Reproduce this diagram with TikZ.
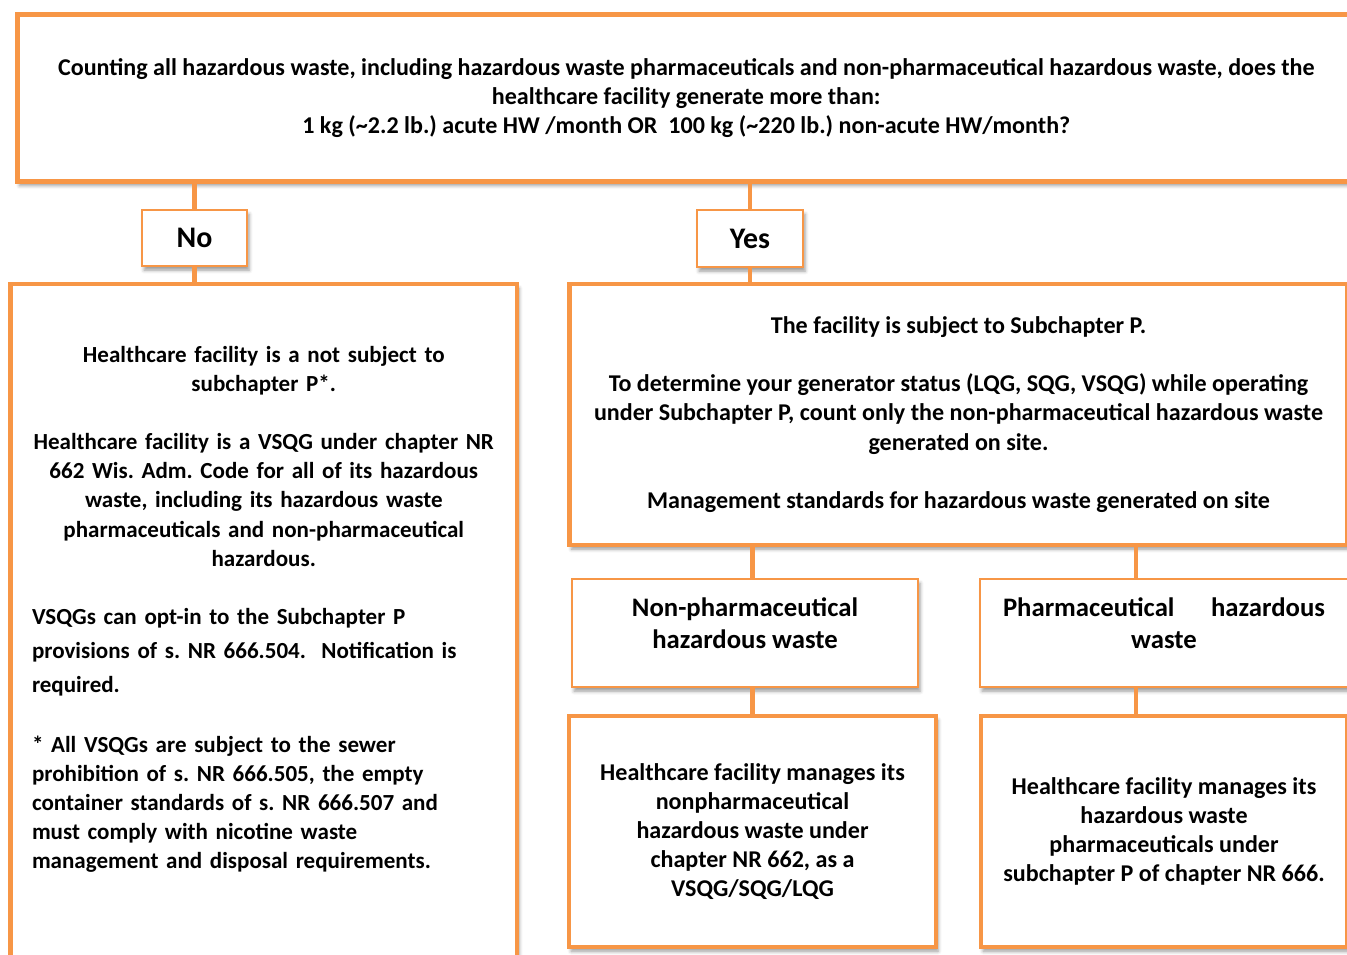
\documentclass[tikz,border=0pt]{standalone}
\usepackage{fontspec}
\setmainfont{Carlito}
\usetikzlibrary{positioning, shadows.blur}
\definecolor{Accent}{HTML}{F79646}

\begin{document}
\frenchspacing
\begin{tikzpicture}[
    box/.style={draw=Accent, line width=2.8pt, fill=white,
        blur shadow={shadow xshift=1.2pt, shadow yshift=-2.4pt, shadow blur radius=2pt}},
    tag/.style={draw=Accent, line width=0.7pt, fill=white,
        blur shadow={shadow xshift=1.2pt, shadow yshift=-2.4pt, shadow blur radius=2pt}},
    link/.style={draw=Accent, line width=2.3pt},
    every node/.style={font=\fontsize{13.7}{16.6}\selectfont\bfseries}
]
\useasboundingbox (0,0) rectangle (26.94,-19.08);
\clip (0,0) rectangle (26.94,-19.08);

% question
\node[box, minimum width=26.75cm, minimum height=3.34cm, align=center] (top) at (13.725,-1.96)
    {Counting all hazardous waste, including hazardous waste pharmaceuticals and non-pharmaceutical hazardous waste, does the\\
     healthcare facility generate more than:\\
     1 kg (\textasciitilde2.2 lb.) acute HW /month OR\ \ 100 kg (\textasciitilde220 lb.) non-acute HW/month?};

\node[tag, minimum width=2.1cm, minimum height=1.12cm, font=\fontsize{17}{20}\selectfont\bfseries] (no) at (3.89,-4.76) {No};
\node[tag, minimum width=2.12cm, minimum height=1.14cm, font=\fontsize{17}{20}\selectfont\bfseries] (yes) at (15.0,-4.77) {Yes};

% left branch
\node[box, minimum width=10.13cm, minimum height=14.32cm] (left) at (5.275,-12.84) {};
\node[text width=9.27cm, inner sep=0pt, below=1.29cm of left.north,
    font=\fontsize{13.1}{16.55}\selectfont\bfseries] (lefttxt) {%
    \setlength{\parindent}{0pt}%
    {\centering\leftskip=0pt plus 1fil minus 0.4cm\rightskip=0pt plus 1fil minus 0.4cm
     Healthcare facility is a not subject to\\ subchapter P*.\\[16.55pt]
     Healthcare facility is a VSQG under chapter NR\\ 662 Wis. Adm. Code for all of its hazardous\\
     waste, including its hazardous waste\\ pharmaceuticals and non-pharmaceutical\\ hazardous.\par}
    \vspace{14pt}
    {\raggedright\fontsize{13.1}{19.3}\selectfont VSQGs can opt-in to the Subchapter P\\
     provisions of s. NR 666.504.\ \ Notification is\\ required.\par}
    \vspace{17.5pt}
    {\raggedright * All VSQGs are subject to the sewer\\ prohibition of s. NR 666.505, the empty\\
     container standards of s. NR 666.507 and\\ must comply with nicotine waste\\
     management and disposal requirements.\par}};

% right branch
\node[box, minimum width=15.56cm, minimum height=5.22cm, align=center] (rtop) at (19.17,-8.29)
    {The facility is subject to Subchapter P.\\[16.6pt]
     To determine your generator status (LQG, SQG, VSQG) while operating\\
     under Subchapter P, count only the non-pharmaceutical hazardous waste\\
     generated on site.\\[16.6pt]
     Management standards for hazardous waste generated on site};

\node[tag, minimum width=6.92cm, minimum height=2.16cm] (nonph) at (14.9,-12.66) {};
\node[inner sep=0pt, align=center, below=0.38cm of nonph.north,
    font=\fontsize{15.2}{18.3}\selectfont\bfseries] (nonphtxt) {Non-pharmaceutical\\ hazardous waste};

\node[tag, minimum width=7.36cm, minimum height=2.16cm] (pharm) at (23.28,-12.66) {};
\node[inner sep=0pt, align=center, below=0.38cm of pharm.north,
    font=\fontsize{15.2}{18.3}\selectfont\bfseries] (pharmtxt)
    {\makebox[6.44cm][s]{Pharmaceutical\hfill hazardous}\\ waste};

\node[box, minimum width=7.34cm, minimum height=4.62cm, align=center] (botmid) at (15.05,-16.63)
    {Healthcare facility manages its\\ nonpharmaceutical\\ hazardous waste under\\ chapter NR 662, as a\\ VSQG/SQG/LQG};
\node[box, minimum width=7.32cm, minimum height=4.62cm, align=center] (botright) at (23.28,-16.63)
    {Healthcare facility manages its\\ hazardous waste\\ pharmaceuticals under\\ subchapter P of chapter NR 666.};

% connectors
\coordinate (phx) at (22.72,0);
\draw[link] (top.south -| no.north) -- (no.north);
\draw[link] (no.south) -- (no.south |- left.north);
\draw[link] (top.south -| yes.north) -- (yes.north);
\draw[link] (yes.south) -- (yes.south |- rtop.north);
\draw[link] (rtop.south -| botmid.north) -- (nonph.north -| botmid.north);
\draw[link] (nonph.south -| botmid.north) -- (botmid.north);
\draw[link] (rtop.south -| phx) -- (pharm.north -| phx);
\draw[link] (pharm.south -| phx) -- (botright.north -| phx);

\end{tikzpicture}
\end{document}
